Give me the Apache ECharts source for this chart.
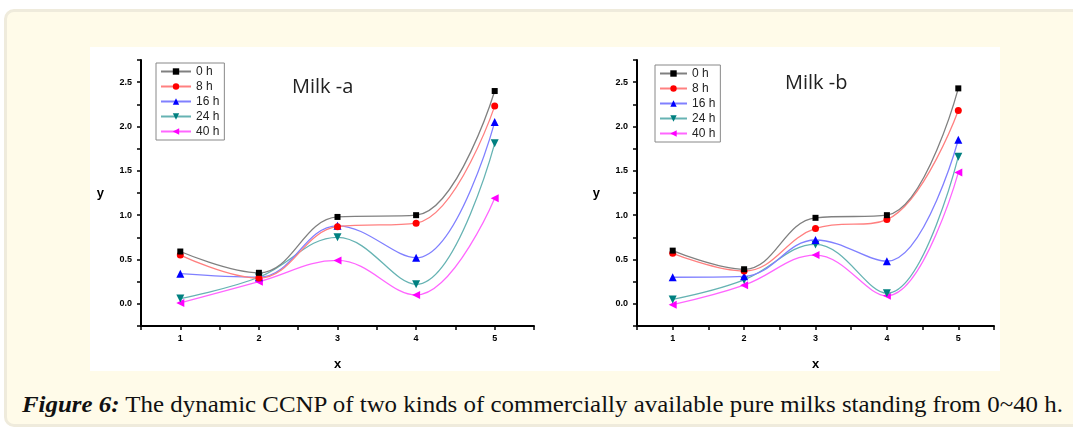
<!DOCTYPE html>
<html>
<head>
<meta charset="utf-8">
<script src="https://cdn.jsdelivr.net/npm/echarts@6/dist/echarts.min.js"></script>
<style>
  html, body { margin: 0; padding: 0; width: 1073px; height: 431px; overflow: hidden; background: #ffffff; }
  #card { position: absolute; left: 4px; top: 9px; width: 1080px; height: 418px; box-sizing: border-box;
          background: #fffbe9; border: 3px solid #efebdc; border-radius: 10px; }
  #white { position: absolute; left: 90px; top: 47px; width: 910px; height: 324px; background: #ffffff; }
  #cap { position: absolute; left: 22px; top: 392px; white-space: nowrap; font-family: "Liberation Serif", serif;
         font-size: 23px; line-height: 26px; color: #111; transform-origin: 0 0; }
  #chart { position: absolute; left: 0; top: 0; width: 1073px; height: 431px; }
</style>
</head>
<body>
<div id="card"></div>
<div id="white"></div>
<div id="cap"><b><i>Figure 6:</i></b> The dynamic CCNP of two kinds of commercially available pure milks standing from 0~40 h.</div>
<div id="chart"></div>
<script>
// ---- data ----
const xValues = [1, 2, 3, 4, 5];
const seriesNames = ['0 h', '8 h', '16 h', '24 h', '40 h'];
const panelTitles = ['Milk -a', 'Milk -b'];
const xTickLabels = ['1', '2', '3', '4', '5'];
const yTickLabels = ['0.0', '0.5', '1.0', '1.5', '2.0', '2.5'];

const milkA_0h  = [0.59, 0.35, 0.98, 1.00, 2.40];
const milkA_8h  = [0.55, 0.29, 0.87, 0.91, 2.23];
const milkA_16h = [0.34, 0.30, 0.88, 0.52, 2.05];
const milkA_24h = [0.06, 0.30, 0.75, 0.22, 1.81];
const milkA_40h = [0.01, 0.25, 0.49, 0.10, 1.19];

const milkB_0h  = [0.60, 0.39, 0.97, 1.00, 2.43];
const milkB_8h  = [0.57, 0.37, 0.85, 0.95, 2.18];
const milkB_16h = [0.30, 0.31, 0.72, 0.48, 1.85];
const milkB_24h = [0.05, 0.27, 0.67, 0.12, 1.66];
const milkB_40h = [-0.01, 0.21, 0.55, 0.09, 1.48];

// ---- styles ----
const markerColors = ['#000000', '#ff0000', '#0000ff', '#008080', '#ff00ff'];
const lineColors = ['#808080', '#ff8080', '#8080ff', '#66b3b3', '#ff66ff'];
const symbols = ['rect', 'circle', 'triangle', 'path://M0,0 L10,0 L5,9 Z', 'path://M0,5 L9,0 L9,10 Z'];
const symbolSizes = [6, 7, 8, 8, 8];

const panels = [
  [milkA_0h, milkA_8h, milkA_16h, milkA_24h, milkA_40h],
  [milkB_0h, milkB_8h, milkB_16h, milkB_24h, milkB_40h]
];

const grids = [
  { left: 141, top: 60, width: 393, height: 266 },
  { left: 637, top: 60, width: 357, height: 266 }
];

function yFmt(v) {
  const k = Math.round(v * 2);
  if (Math.abs(v * 2 - k) > 1e-6 || k < 0) return '';
  return yTickLabels[k] !== undefined ? yTickLabels[k] : '';
}
function xFmt(v) {
  const k = Math.round(v);
  if (Math.abs(v - k) > 1e-6) return '';
  const idx = xValues.indexOf(k);
  return idx >= 0 ? xTickLabels[idx] : '';
}

const axisFont = { fontFamily: 'Liberation Sans, Arial, sans-serif', fontWeight: 'bold', fontSize: 9, color: '#000' };
const nameFont = { fontFamily: 'Liberation Sans, Arial, sans-serif', fontWeight: 'bold', fontSize: 13, color: '#000' };

const xAxes = grids.map((g, i) => ({
  type: 'value', gridIndex: i, min: 0.5, max: 5.5, interval: 0.5,
  axisLine: { show: true, onZero: false, lineStyle: { color: '#000', width: 2 } },
  axisTick: { show: true, inside: false, length: 4, lineStyle: { color: '#000', width: 1.5 } },
  axisLabel: Object.assign({ formatter: xFmt, margin: 8 }, axisFont),
  splitLine: { show: false },
  name: 'x', nameLocation: 'middle', nameGap: 32, nameTextStyle: nameFont
}));
const yAxes = grids.map((g, i) => ({
  type: 'value', gridIndex: i, min: -0.25, max: 2.75, interval: 0.25,
  axisLine: { show: true, onZero: false, lineStyle: { color: '#000', width: 2 } },
  axisTick: { show: true, inside: false, length: 4, lineStyle: { color: '#000', width: 1.5 } },
  axisLabel: Object.assign({ formatter: yFmt, margin: 9 }, axisFont),
  splitLine: { show: false },
  name: 'y', nameLocation: 'middle', nameGap: 37, nameRotate: 0, nameTextStyle: nameFont
}));

const series = [];
panels.forEach((panel, p) => {
  panel.forEach((vals, s) => {
    series.push({
      type: 'line', name: seriesNames[s], xAxisIndex: p, yAxisIndex: p,
      data: xValues.map((x, j) => [x, vals[j]]),
      smooth: 0.4,
      symbol: symbols[s], symbolSize: symbolSizes[s],
      itemStyle: { color: markerColors[s] },
      lineStyle: { color: lineColors[s], width: 1.3 },
      z: 10 - s
    });
  });
});

const legends = [
  { left: 156, top: 63, itemWidth: 30 },
  { left: 655, top: 65, itemWidth: 27 }
].map(l => ({
  data: seriesNames, orient: 'vertical', left: l.left, top: l.top,
  itemWidth: l.itemWidth, itemHeight: 8, itemGap: 2,
  padding: [2, 5, 2, 4], borderColor: '#888', borderWidth: 1,
  backgroundColor: '#fff',
  textStyle: { fontFamily: 'Liberation Sans, Arial, sans-serif', fontSize: 12, color: '#222', lineHeight: 13 },
  selectedMode: false
}));

const chart = echarts.init(document.getElementById('chart'), null, { renderer: 'canvas' });
chart.setOption({
  animation: false,
  grid: grids,
  xAxis: xAxes,
  yAxis: yAxes,
  legend: legends,
  graphic: [
    { type: 'text', left: 292, top: 77, style: { text: panelTitles[0], font: '20px "Open Sans", sans-serif', fill: '#222' } },
    { type: 'text', left: 785, top: 73, style: { text: panelTitles[1], font: '20px "Open Sans", sans-serif', fill: '#222' } }
  ],
  series: series
});

// fit caption width to reference extent
const cap = document.getElementById('cap');
const w = cap.getBoundingClientRect().width;
cap.style.transform = 'scaleX(' + (1041 / w) + ')';
</script>
</body>
</html>
